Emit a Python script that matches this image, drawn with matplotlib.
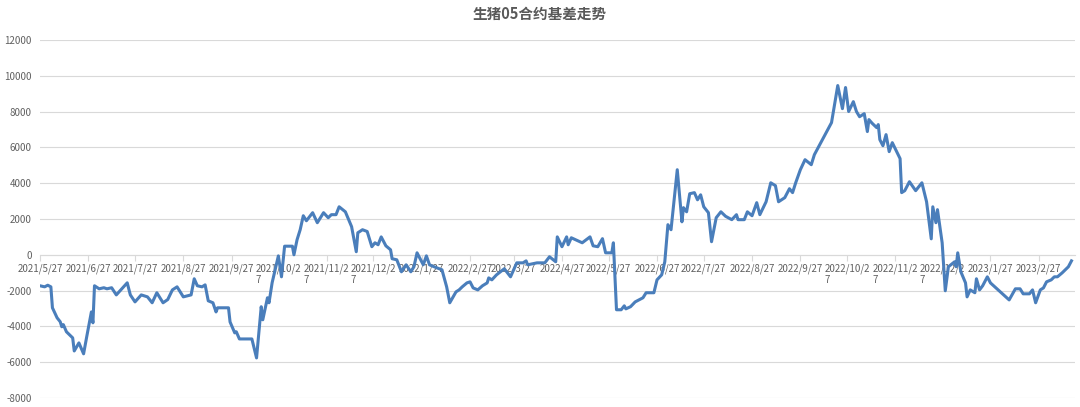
import matplotlib
matplotlib.use('Agg')
import matplotlib.pyplot as plt
import numpy as np
import datetime as dt

plt.rcParams['font.family'] = ['Noto Sans CJK SC', 'DejaVu Sans']

# basis readings: days after 2021/5/27 and basis value (yuan/t)
start = dt.date(2021, 5, 27)
day_offset = [0, 3, 5, 7, 8, 11, 13, 14, 15, 17, 21, 22, 25, 28, 30, 33, 34, 35, 38, 41,
              43, 46, 49, 56, 58, 61, 65, 69, 72, 75, 79, 82, 85, 88, 92, 97, 99, 101, 104, 106,
              108, 111, 113, 114, 121, 122, 125, 126, 128, 136, 139, 142, 143, 146, 147, 149, 153, 155, 157, 162,
              163, 165, 167, 169, 171, 175, 178, 182, 185, 187, 190, 192, 196, 200, 203, 204, 207, 210, 213, 215,
              217, 219, 222, 225, 226, 229, 232, 235, 238, 240, 242, 246, 248, 250, 253, 258, 261, 263, 267, 269,
              271, 274, 276, 278, 281, 284, 287, 288, 290, 293, 298, 302, 306, 310, 312, 313, 319, 324, 327, 331,
              332, 335, 338, 339, 341, 348, 353, 355, 358, 361, 363, 367, 368, 370, 373, 375, 376, 379, 382, 387,
              389, 394, 396, 399, 401, 403, 405, 409, 412, 413, 415, 417, 420, 422, 424, 426, 429, 431, 434, 437,
              440, 444, 447, 448, 452, 454, 457, 460, 462, 466, 469, 472, 474, 478, 481, 483, 485, 488, 491, 495,
              497, 508, 512, 515, 517, 519, 522, 524, 526, 529, 531, 532, 534, 537, 538, 539, 541, 543, 545, 547,
              552, 553, 555, 558, 562, 566, 569, 572, 573, 575, 576, 579, 581, 583, 587, 588, 589, 591, 594, 595,
              597, 600, 601, 603, 605, 608, 610, 622, 626, 629, 631, 635, 637, 639, 642, 644, 646, 649, 651, 653,
              656, 658, 660, 662]
basis = [-1730, -1790, -1700, -1790, -2960, -3520, -3740, -4020, -3900, -4300, -4640, -5370, -4920, -5530, -4580, -3190, -3800, -1730, -1900, -1840,
         -1900, -1840, -2240, -1565, -2240, -2630, -2240, -2350, -2680, -2120, -2680, -2500, -1960, -1790, -2350, -2240, -1340, -1730, -1790, -1680,
         -2570, -2680, -3190, -2960, -2960, -3750, -4360, -4300, -4700, -4700, -5760, -2900, -3630, -2400, -2680, -1560, -60, -1230, 480, 480,
         0, 840, 1400, 2180, 1900, 2350, 1790, 2350, 2070, 2240, 2240, 2680, 2400, 1570, 170, 1230, 1400, 1300, 450, 670,
         560, 1000, 500, 280, -220, -280, -950, -560, -950, -670, 110, -560, -60, -560, -670, -840, -1790, -2680, -2070, -1960,
         -1790, -1570, -1510, -1850, -1960, -1730, -1570, -1290, -1400, -1120, -780, -1230, -450, -450, -340, -560, -450, -450, -110, -390,
         1000, 450, 1000, 560, 950, 670, 1000, 500, 450, 900, 110, 110, 670, -3070, -3070, -2850, -3020, -2900, -2630, -2400,
         -2120, -2120, -1400, -1120, -390, 1680, 1400, 4750, 1840, 2630, 2400, 3410, 3470, 3070, 3350, 2680, 2350, 730, 2070, 2400,
         2150, 1960, 2240, 1960, 1960, 2400, 2180, 2910, 2240, 2960, 4020, 3860, 2960, 3190, 3690, 3470, 4020, 4750, 5310, 5030,
         5590, 7380, 9450, 8160, 9340, 8000, 8550, 8000, 7710, 7880, 6880, 7550, 7350, 7100, 7270, 6430, 6090, 6710, 5760, 6260,
         5370, 3470, 3580, 4080, 3580, 4020, 2960, 890, 2680, 1790, 2520, 670, -2010, -670, -390, -670, 110, -950, -1570, -2350,
         -1960, -2120, -1340, -1960, -1730, -1230, -1570, -2520, -1900, -1900, -2180, -2180, -1960, -2680, -1960, -1850, -1510, -1400, -1230, -1230,
         -1010, -840, -670, -340]

tick_dates = [dt.date(2021, m, 27) for m in range(5, 13)] + \
             [dt.date(2022, m, 27) for m in range(1, 13)] + \
             [dt.date(2023, m, 27) for m in range(1, 3)]
tick_labels = ['2021/5/27', '2021/6/27', '2021/7/27', '2021/8/27', '2021/9/27',
               '2021/10/2\n7', '2021/11/2\n7', '2021/12/2\n7',
               '2022/1/27', '2022/2/27', '2022/3/27', '2022/4/27', '2022/5/27',
               '2022/6/27', '2022/7/27', '2022/8/27', '2022/9/27',
               '2022/10/2\n7', '2022/11/2\n7', '2022/12/2\n7',
               '2023/1/27', '2023/2/27']
y_ticks = list(range(-8000, 12001, 2000))

dates = [start + dt.timedelta(days=d) for d in day_offset]

fig = plt.figure(figsize=(10.8, 4.07), dpi=100)
ax = fig.add_axes([0.037, 0.022, 0.958, 0.880])

ax.plot(dates, basis, color='#4A7EBB', lw=2.2, solid_joinstyle='round', zorder=3)

ax.set_ylim(-8000, 12000)
ax.set_xlim(start, start + dt.timedelta(days=664))
ax.set_yticks(y_ticks)
ax.set_yticklabels([str(v) for v in y_ticks])
ax.grid(axis='y', color='#D9D9D9', lw=0.8)
ax.set_axisbelow(True)

ax.set_xticks(tick_dates)
ax.set_xticklabels(tick_labels, linespacing=1.7)
ax.spines['bottom'].set_position(('data', 0))
ax.spines['bottom'].set_color('#D9D9D9')
for s in ['top', 'right', 'left']:
    ax.spines[s].set_visible(False)
ax.tick_params(axis='x', length=4, color='#D9D9D9', labelsize=7,
               labelcolor='#606060', pad=2)
ax.tick_params(axis='y', length=0, labelsize=7, labelcolor='#606060', pad=6)
for lab in ax.get_xticklabels():
    lab.set_verticalalignment('top')
    lab.set_multialignment('left')

fig.text(0.5, 1 - 14 / 407, '生猪05合约基差走势', ha='center', va='center',
         fontsize=10.5, fontweight='bold', color='#595959')

fig.savefig('out.png', dpi=100)
